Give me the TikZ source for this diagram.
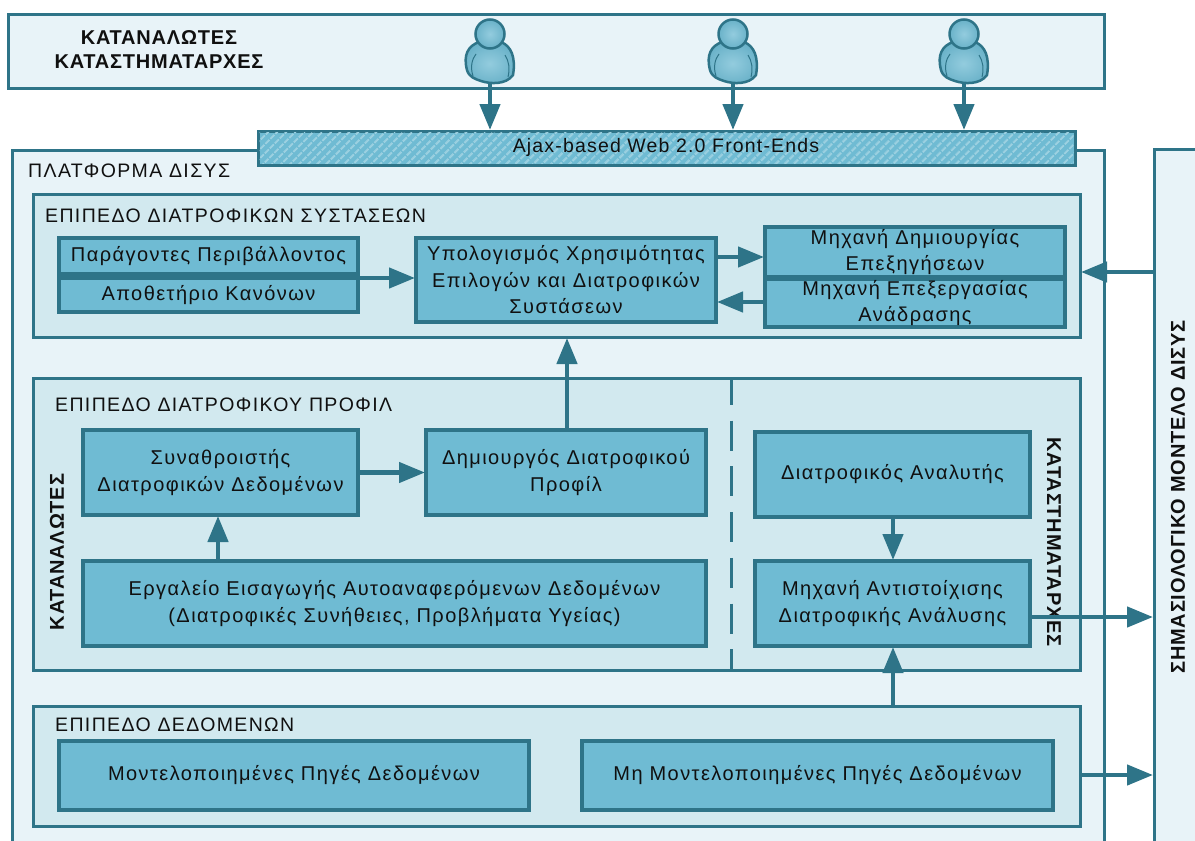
\documentclass[tikz,border=0pt]{standalone}
\usepackage{fontspec}
\setmainfont{Liberation Sans}
\usetikzlibrary{arrows.meta,patterns.meta,calc}
\definecolor{edge}{HTML}{2E7488}
\definecolor{boxfill}{HTML}{6FBBD3}
\definecolor{layerfill}{HTML}{D2E9EF}
\definecolor{outerfill}{HTML}{E8F3F8}
\definecolor{hatchline}{HTML}{9DD1E1}
\definecolor{ink}{HTML}{101010}
\newcommand{\txtfont}{\fontsize{20}{26.5}\selectfont\addfontfeatures{LetterSpace=7.2}}
\newcommand{\ajaxfont}{\fontsize{19.5}{26.5}\selectfont\addfontfeatures{LetterSpace=6}}
\newcommand{\hdrfont}{\fontsize{19.5}{24}\selectfont\addfontfeatures{LetterSpace=7}}
\newcommand{\boldfont}{\fontsize{20}{24}\selectfont\bfseries\addfontfeatures{LetterSpace=4}}
\tikzset{
  base/.style={draw=edge,anchor=north west,outer sep=0pt,inner sep=0pt,align=center,text=ink,font=\txtfont},
  outerbox/.style={base,fill=outerfill,line width=3pt},
  layerbox/.style={base,fill=layerfill,line width=3pt},
  compbox/.style={base,fill=boxfill,line width=3.3pt},
  label/.style={anchor=west,inner sep=0pt,text=ink,font=\hdrfont},
  heavy/.style={inner sep=0pt,align=center,text=ink,font=\boldfont},
  link/.style={draw=edge,line width=4.5pt,-{Triangle[length=26pt,width=20pt]},shorten >=1pt},
  person/.pic={
    \draw[edge,inner color=boxfill!75!white,outer color=boxfill!95!black,line width=2.5pt] (-23,31)
      .. controls (-27,16) and (-22,7) .. (-11,3)
      .. controls (-4,8) and (6,8) .. (11,3)
      .. controls (21,7) and (26,18) .. (23,36)
      .. controls (16,46) and (0,45) .. (-9,42)
      .. controls (-15,40) and (-21,38) .. (-23,31) -- cycle;
    \draw[edge,inner color=boxfill!75!white,outer color=boxfill!95!black,line width=2.5pt] (0,-5) circle [radius=14.5];
    \draw[edge,line width=1pt] (-17,37) .. controls (-20,28) and (-18,20) .. (-14,15);
    \draw[edge,line width=1pt] (18,38) .. controls (20,30) and (19,22) .. (15,16);
  }
}
\begin{document}
\begin{tikzpicture}[x=1pt,y=-1pt]
\useasboundingbox (0,0) rectangle (1195,841);
\clip (0,0) rectangle (1195,841);
% outer boxes
\node[outerbox,minimum width=1096pt,minimum height=74pt] (users) at (8,14) {};
\node[outerbox,minimum width=1092pt,minimum height=710pt] (platform) at (12,150) {};
\node[outerbox,minimum width=60pt,minimum height=710pt] (model) at (1154,149) {};
\node[base,fill=boxfill,line width=3pt,minimum width=817pt,minimum height=34pt] (front) at (258,131) {};
\fill[pattern={Lines[angle=45,distance=6.5pt,line width=2pt]},pattern color=hatchline] (259.5,132.5) rectangle (1073.5,163.5);
\node[inner sep=0pt,text=ink,font=\ajaxfont] (fronttext) at (666,147) {Ajax-based Web 2.0 Front-Ends};
% layers
\node[layerbox,minimum width=1047pt,minimum height=143pt] (recs) at (33,194) {};
\node[layerbox,minimum width=1047pt,minimum height=292pt] (profile) at (33,378) {};
\node[layerbox,minimum width=1047pt,minimum height=120pt] (data) at (33,706) {};
% labels
\node[heavy] (userstext) at (159,50) {ΚΑΤΑΝΑΛΩΤΕΣ\\ΚΑΤΑΣΤΗΜΑΤΑΡΧΕΣ};
\node[label] (platformtext) at (28,171) {ΠΛΑΤΦΟΡΜΑ ΔΙΣΥΣ};
\node[label] (recstext) at (45,216) {ΕΠΙΠΕΔΟ ΔΙΑΤΡΟΦΙΚΩΝ ΣΥΣΤΑΣΕΩΝ};
\node[label] (profiletext) at (55,405) {ΕΠΙΠΕΔΟ ΔΙΑΤΡΟΦΙΚΟΥ ΠΡΟΦΙΛ};
\node[label] (datatext) at (55,725) {ΕΠΙΠΕΔΟ ΔΕΔΟΜΕΝΩΝ};
\node[heavy,rotate=90] (constext) at (57,552) {ΚΑΤΑΝΑΛΩΤΕΣ};
\node[heavy,rotate=270] (retailtext) at (1054,542) {ΚΑΤΑΣΤΗΜΑΤΑΡΧΕΣ};
\node[heavy,rotate=90] (modeltext) at (1178,497) {ΣΗΜΑΣΙΟΛΟΓΙΚΟ ΜΟΝΤΕΛΟ ΔΙΣΥΣ};
\coordinate (dashtop) at (731,379.5);
\coordinate (dashbot) at (731,668.5);
\draw[edge,line width=3pt,dash pattern=on 30pt off 15.7pt,dash phase=4.5pt] (dashtop) -- (dashbot);
% components
\node[compbox,minimum width=299pt,minimum height=36pt] (env) at (59,238) {Παράγοντες Περιβάλλοντος};
\node[compbox,minimum width=299pt,minimum height=34pt] (rules) at (59,278) {Αποθετήριο Κανόνων};
\node[compbox,minimum width=300pt,minimum height=84pt] (utility) at (416,238) {Υπολογισμός Χρησιμότητας\\Επιλογών και Διατροφικών\\Συστάσεων};
\node[compbox,minimum width=300pt,minimum height=50pt] (explain) at (765,227) {Μηχανή Δημιουργίας\\Επεξηγήσεων};
\node[compbox,minimum width=300pt,minimum height=48pt] (feedback) at (765,279) {Μηχανή Επεξεργασίας\\Ανάδρασης};
\node[compbox,minimum width=275pt,minimum height=85pt] (agg) at (83,430) {Συναθροιστής\\Διατροφικών Δεδομένων};
\node[compbox,minimum width=280pt,minimum height=85pt] (creator) at (426,430) {Δημιουργός Διατροφικού\\Προφίλ};
\node[compbox,minimum width=623pt,minimum height=85pt] (tool) at (83,561) {Εργαλείο Εισαγωγής Αυτοαναφερόμενων Δεδομένων\\(Διατροφικές Συνήθειες, Προβλήματα Υγείας)};
\node[compbox,minimum width=275pt,minimum height=85pt] (analyst) at (755,432) {Διατροφικός Αναλυτής};
\node[compbox,minimum width=275pt,minimum height=85pt] (match) at (755,561) {Μηχανή Αντιστοίχισης\\Διατροφικής Ανάλυσης};
\node[compbox,minimum width=470pt,minimum height=69pt] (modeled) at (59,741) {Μοντελοποιημένες Πηγές Δεδομένων};
\node[compbox,minimum width=471pt,minimum height=69pt] (unmodeled) at (582,741) {Μη Μοντελοποιημένες Πηγές Δεδομένων};
% people
\pic at (490,39) {person};
\pic at (733,39) {person};
\pic at (964,39) {person};
\coordinate (p1) at (490,82);
\coordinate (p2) at (733,82);
\coordinate (p3) at (964,82);
% connectors
\draw[link] (p1) -- (p1 |- front.north);
\draw[link] (p2) -- (p2 |- front.north);
\draw[link] (p3) -- (p3 |- front.north);
\coordinate (a1) at (358,278);
\draw[link] (a1) -- (a1 -| utility.west);
\coordinate (a2) at (716,257);
\draw[link] (a2) -- (a2 -| explain.west);
\coordinate (a3) at (765,302);
\draw[link] (a3) -- (a3 -| utility.east);
\coordinate (a4) at (1154,272);
\draw[link] (a4) -- (a4 -| recs.east);
\coordinate (a5) at (567,430);
\draw[link] (a5) -- (a5 |- recs.south);
\draw[link] (agg.east) -- (creator.west);
\coordinate (a6) at (218,561);
\draw[link] (a6) -- (a6 |- agg.south);
\coordinate (a7) at (893,517);
\draw[link] (a7) -- (a7 |- match.north);
\coordinate (a8) at (893,706);
\draw[link] (a8) -- (a8 |- match.south);
\coordinate (a9) at (1030,617);
\draw[link] (a9) -- (a9 -| model.west);
\coordinate (a10) at (1080,775);
\draw[link] (a10) -- (a10 -| model.west);
\end{tikzpicture}
\end{document}
